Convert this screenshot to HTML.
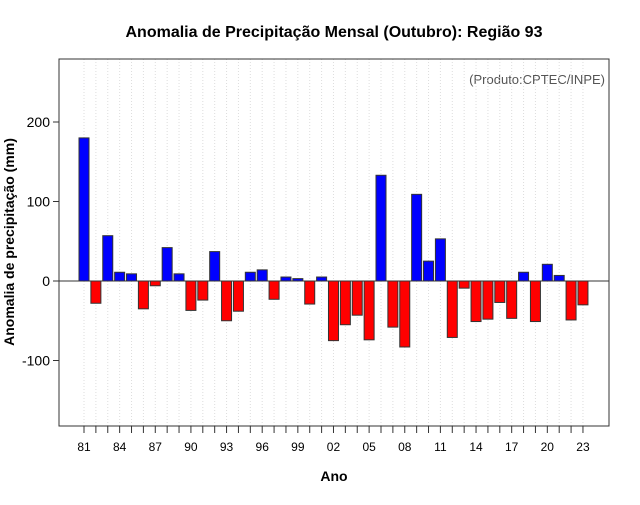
<!DOCTYPE html>
<html><head><meta charset="utf-8"><style>
body{margin:0;background:#fff;font-family:"Liberation Sans",sans-serif;}
svg text{font-family:"Liberation Sans",sans-serif;}
</style></head><body>
<svg id="c" width="640" height="500">
<text x="334" y="37" text-anchor="middle" font-size="16" font-weight="bold">Anomalia de Precipitação Mensal (Outubro): Região 93</text>
<text x="605" y="84" text-anchor="end" font-size="13" fill="#555">(Produto:CPTEC/INPE)</text>
<text x="334" y="481" text-anchor="middle" font-size="14" font-weight="bold">Ano</text>
<text transform="translate(14,242) rotate(-90)" text-anchor="middle" font-size="14" font-weight="bold">Anomalia de precipitação (mm)</text>
<g id="g"></g>
</svg>
<script>
const years=[81,82,83,84,85,86,87,88,89,90,91,92,93,94,95,96,97,98,99,0,1,2,3,4,5,6,7,8,9,10,11,12,13,14,15,16,17,18,19,20,21,22,23];
const values=[180,-28,57,11,9,-35,-6,42,9,-37,-24,37,-50,-38,11,14,-23,5,3,-29,5,-75,-55,-43,-74,133,-58,-83,109,25,53,-71,-9,-51,-48,-27,-47,11,-51,21,7,-49,-30];
const yTicks=[-100,0,100,200];
const xTickEvery=3;
const NS="http://www.w3.org/2000/svg";
const g=document.getElementById('g');
const L=59,R=609,T=59,B=426;
const y=v=>281-v*0.795;
const x=i=>84+i*11.88;
function mk(t,a){const e=document.createElementNS(NS,t);for(const k in a)e.setAttribute(k,a[k]);g.appendChild(e);return e;}
years.forEach((yr,i)=>{
 const l=mk('line',{x1:x(i),x2:x(i),y1:T,y2:B,stroke:'#ddd','stroke-dasharray':'1,2','stroke-width':1});
 
 
});
values.forEach((v,i)=>{
 const y0=y(0),y1=y(v);
 const r=mk('rect',{x:x(i)-5,y:Math.min(y0,y1),width:10,height:Math.abs(y1-y0),fill:v>=0?'#0000ff':'#ff0000',stroke:'#333','stroke-width':1});
 
 
});
const z=mk('line',{x1:L,x2:R,y1:y(0),y2:y(0),stroke:'#333','stroke-width':1});


const fr=mk('rect',{x:L,y:T,width:R-L,height:B-T,fill:'none',stroke:'#333','stroke-width':1});


yTicks.forEach(t=>{
 const tl=mk('line',{x1:L-6,x2:L,y1:y(t),y2:y(t),stroke:'#333'});
 
 
 const tx=mk('text',{x:L-9,y:y(t)+5,'text-anchor':'end','font-size':14});
 tx.textContent=t;
 
 
});
years.forEach((yr,i)=>{
 const tl=mk('line',{x1:x(i),x2:x(i),y1:B,y2:B+7,stroke:'#333'});
 
 
 if(i%xTickEvery===0){
  const tx=mk('text',{x:x(i),y:B+25,'text-anchor':'middle','font-size':12});
  tx.textContent=String(yr).padStart(2,'0');
  
  
 }
});
</script>
</body></html>
